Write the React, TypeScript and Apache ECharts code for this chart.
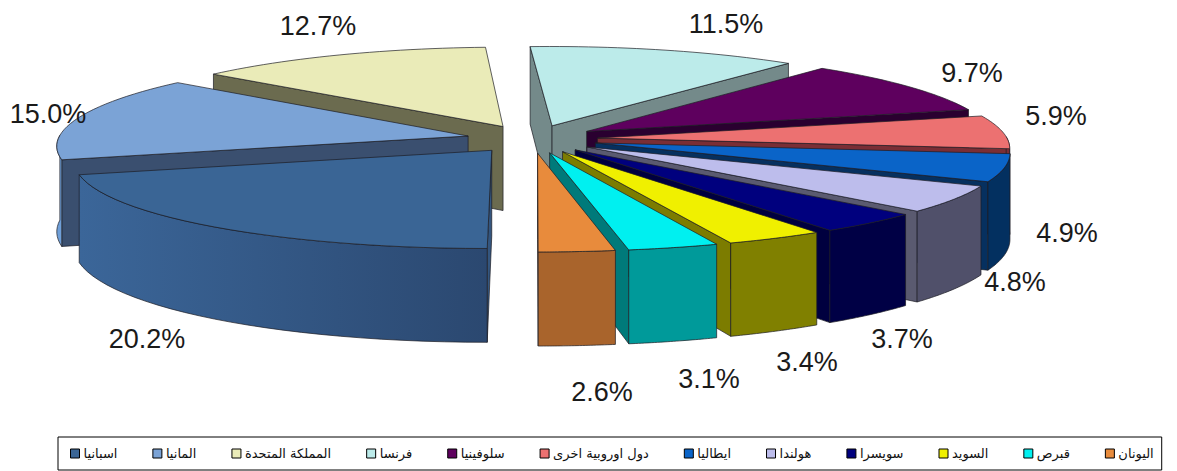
import React, { useEffect, useRef } from "react";
import * as echarts from "echarts";

const countries = ["اسبانيا", "المانيا", "المملكة المتحدة", "فرنسا", "سلوفينيا", "دول اوروبية اخرى", "ايطاليا", "هولندا", "سويسرا", "السويد", "قبرص", "اليونان"];
const shares = [20.2, 15.0, 12.7, 11.5, 9.7, 5.9, 4.9, 4.8, 3.7, 3.4, 3.1, 2.6];
const topColors = ["#3A6595", "#7BA3D6", "#EAEBB8", "#BCEBEA", "#5E005E", "#EC7171", "#0A64C8", "#BDBDEC", "#00007E", "#F0F000", "#00F0F0", "#E88B3C"];
const wallColors = ["#34567F", "#3A4F6F", "#6B6B4F", "#748A8A", "#2A0030", "#7A2E35", "#06305F", "#5A5A70", "#00003F", "#7C7C00", "#007A7A", "#A9642C"];
const rimColors = ["#34567F", "#6F9FD8", "#6B6B4F", "#748A8A", "#2A0030", "#7A2E35", "#033060", "#50506A", "#000045", "#808000", "#009A9A", "#A9642C"];
const labelCenters = [[147, 339], [48, 114], [318, 26], [726, 24], [972, 73], [1056, 116], [1067, 233], [1015, 282], [902, 339], [807, 362], [709, 379], [602, 392]];

const CX = 532, CY = 139, RX = 410, RY = 88, DEPTH = 85, EXPLODE = 0.16, DX = 10, DY = 12, START = 180;

type P = [number, number];
const rad = (d: number) => (d * Math.PI) / 180;
function project(x: number, z: number, drop = 0): P {
  const px = 1 / (1 + z / DX), py = 1 / (1 + z / DY);
  return [CX + x * RX * px, CY - z * RY * py + drop * py];
}
function area(p: P[]) {
  let s = 0;
  p.forEach((a, i) => { const b = p[(i + 1) % p.length]; s += a[0] * b[1] - b[0] * a[1]; });
  return s;
}

const total = shares.reduce((a, b) => a + b, 0);
let acc = START;
const slices = shares.map((v, i) => {
  const a = acc, b = acc + (v / total) * 360;
  acc = b;
  return { i, a, b, mid: (a + b) / 2 };
});

function faces(s: (typeof slices)[number]) {
  const ox = EXPLODE * Math.sin(rad(s.mid)), oz = EXPLODE * Math.cos(rad(s.mid));
  const at = (t: number, drop = 0) => project(ox + Math.sin(rad(t)), oz + Math.cos(rad(t)), drop);
  const apexT = project(ox, oz), apexB = project(ox, oz, DEPTH);
  const steps = 28;
  const arc: number[] = [];
  for (let k = 0; k <= steps; k++) arc.push(s.a + ((s.b - s.a) * k) / steps);
  const top: P[] = [apexT, ...arc.map((t) => at(t))];
  const out: any[] = [];
  const style = (fill: any) => ({ fill, stroke: "#1c1c24", lineWidth: 0.7 });
  const wallA: P[] = [apexT, at(s.a), at(s.a, DEPTH), apexB];
  const wallB: P[] = [apexT, at(s.b), at(s.b, DEPTH), apexB];
  const wc = wallColors[s.i];
  if (area(wallA) < 0) out.push({ type: "polygon", shape: { points: wallA }, style: style(wc) });
  if (area(wallB) > 0) out.push({ type: "polygon", shape: { points: wallB }, style: style(wc) });
  const vis = arc.filter((t) => Math.cos(rad(t)) < 0.02);
  if (vis.length > 1) {
    const rim: P[] = [...vis.map((t) => at(t)), ...vis.slice().reverse().map((t) => at(t, DEPTH))];
    const fill = s.i === 0
      ? { type: "linear", x: 0, y: 0, x2: 1, y2: 0, colorStops: [{ offset: 0, color: "#3B6699" }, { offset: 1, color: "#2B4870" }] }
      : rimColors[s.i];
    out.push({ type: "polygon", shape: { points: rim }, style: style(fill) });
  }
  out.push({ type: "polygon", shape: { points: top }, style: style(topColors[s.i]) });
  return out;
}

const paintOrder = slices.slice().sort((p, q) => Math.cos(rad(q.mid)) - Math.cos(rad(p.mid)));

export default function App() {
  const ref = useRef<HTMLDivElement>(null);
  useEffect(() => {
    const chart = echarts.init(ref.current!, undefined, { renderer: "svg" });
    chart.setOption({
      animation: false,
      backgroundColor: "#ffffff",
      legend: {
        data: countries.map((name) => ({ name, icon: "rect" })),
        left: 58,
        top: 437,
        orient: "horizontal",
        itemWidth: 9,
        itemHeight: 9,
        itemGap: 35,
        padding: [10, 8, 10, 12],
        borderColor: "#000",
        borderWidth: 1,
        selectedMode: false,
        itemStyle: { borderColor: "#000", borderWidth: 1 },
        textStyle: { fontFamily: "DejaVu Sans", fontSize: 13, color: "#111", padding: [0, 0, 0, -1] },
      },
      series: paintOrder.map((s) => ({
        type: "custom",
        name: countries[s.i],
        coordinateSystem: "none",
        silent: true,
        itemStyle: { color: topColors[s.i] },
        data: [shares[s.i]],
        renderItem: () => ({ type: "group", children: faces(s) }),
      })),
      graphic: shares.map((v, i) => ({
        type: "text",
        z: 100,
        x: labelCenters[i][0],
        y: labelCenters[i][1],
        style: {
          text: `${v.toFixed(1)}%`,
          fill: "#1a1a1a",
          font: '27px "Liberation Sans", Arial, sans-serif',
          textAlign: "center",
          textVerticalAlign: "middle",
        },
      })),
    });
    return () => chart.dispose();
  }, []);
  return <div ref={ref} style={{ position: "absolute", left: 0, top: 0, width: 1177, height: 471 }} />;
}
